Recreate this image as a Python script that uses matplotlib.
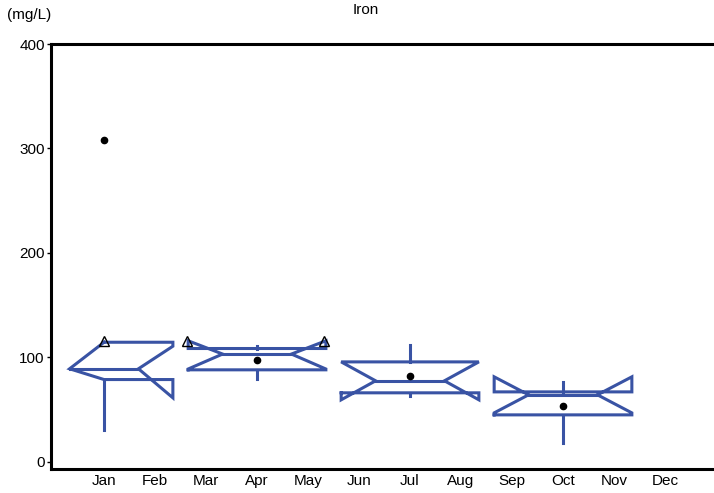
import matplotlib
matplotlib.use("Agg")
import matplotlib.pyplot as plt

plt.rcParams['font.family'] = ['Liberation Sans', 'DejaVu Sans']

# ---- data ----
months = ["Jan", "Feb", "Mar", "Apr", "May", "Jun", "Jul", "Aug", "Sep", "Oct", "Nov", "Dec"]
y_ticks = [0, 100, 200, 300, 400]
positions = [1, 4, 7, 10]            # Jan, Apr, Jul, Oct (season centres)
q1 = [114.6, 88.2, 66.2, 45.1]
q3 = [78.9, 108.6, 95.8, 67.1]
medians = [89.2, 103.3, 77.7, 64.3]
ci_lo = [110.8, 89.0, 59.5, 47.0]
ci_hi = [61.4, 116.0, 95.8, 81.5]
whis_lo = [30.7, 79.6, 63.5, 18.2]
whis_hi = [114.6, 111.0, 112.2, 76.7]
means = [308.0, 97.2, 82.5, 53.7]
flag_x = [1.0, 2.63, 5.31]
flag_y = [115.5, 115.5, 115.5]
clamp_left = [True, False, False, False]

title = "Iron"
unit = "(mg/L)"

# ---- style ----
BLUE = "#3953A4"
LW = 2.2
BOX_W = 2.7

fig = plt.figure(figsize=(7.14, 4.93), dpi=100)
ax = fig.add_axes([51 / 714, 24 / 493, 665 / 714, 425 / 493])

for i, pos in enumerate(positions):
    hw = BOX_W / 2
    L, R = pos - hw, pos + hw
    nL, nR = pos - hw / 2, pos + hw / 2
    if clamp_left[i]:
        L = pos
        xs = [L, R, R, nR, R, R, L, nL, L]
        ys = [q1[i], q1[i], ci_lo[i], medians[i], ci_hi[i], q3[i], q3[i], medians[i], q1[i]]
    else:
        xs = [L, R, R, nR, R, R, L, L, nL, L, L]
        ys = [q1[i], q1[i], ci_lo[i], medians[i], ci_hi[i], q3[i], q3[i],
              ci_hi[i], medians[i], ci_lo[i], q1[i]]
    ax.plot(xs, ys, color=BLUE, lw=LW, solid_joinstyle='miter', zorder=2)
    ax.plot([nL, nR], [medians[i], medians[i]], color=BLUE, lw=LW, zorder=2)
    top = max(q1[i], q3[i])
    bot = min(q1[i], q3[i])
    if whis_hi[i] > top:
        ax.plot([pos, pos], [top, whis_hi[i]], color=BLUE, lw=LW, zorder=2)
    if whis_lo[i] < bot:
        ax.plot([pos, pos], [bot, whis_lo[i]], color=BLUE, lw=LW, zorder=2)

ax.plot(positions, means, linestyle='none', marker='o', color='black', markersize=4.5, zorder=4)
ax.plot(flag_x, flag_y, linestyle='none', marker='^', markerfacecolor='none',
        markeredgecolor='black', markersize=6.5, markeredgewidth=1, zorder=5)

ax.set_xlim(-0.04, 13.0)
ax.set_ylim(-6.7, 400)
ax.set_xticks(range(1, 13))
ax.set_xticklabels(months, fontsize=11)
ax.set_yticks(y_ticks)
ax.set_yticklabels([str(v) for v in y_ticks], fontsize=11)
ax.tick_params(axis='x', length=0, pad=3.5)
ax.tick_params(axis='y', length=3, width=1, pad=1.5)

for s in ['left', 'top', 'bottom']:
    ax.spines[s].set_linewidth(2.2)
    ax.spines[s].set_color('black')
ax.spines['right'].set_visible(False)

fig.text(366 / 714, 1 - 10 / 493, title, ha='center', va='center', fontsize=11)
fig.text(7 / 714, 1 - 15 / 493, unit, ha='left', va='center', fontsize=11)

fig.savefig("out.png", dpi=100)
